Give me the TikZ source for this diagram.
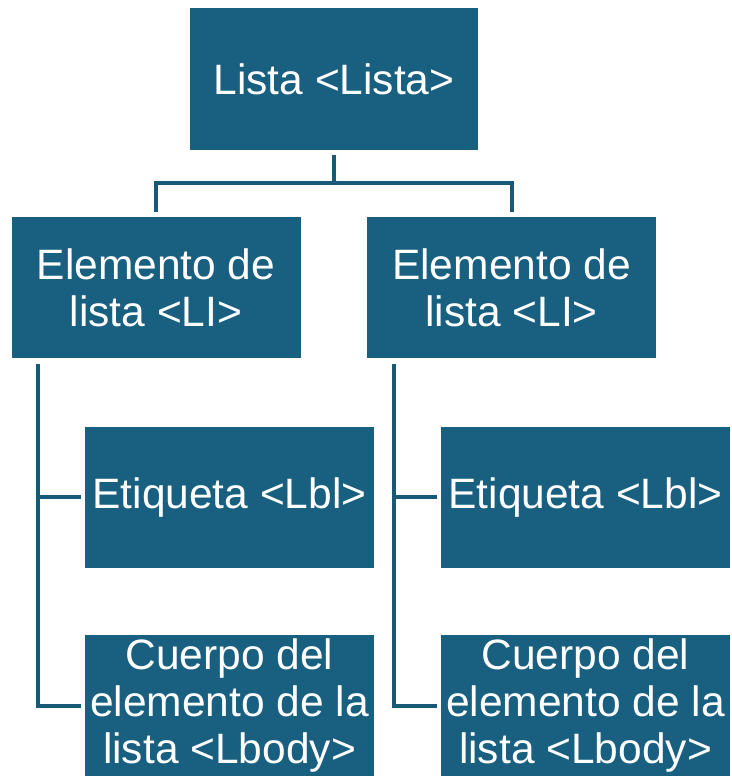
\documentclass[tikz,border=0pt]{standalone}
\usepackage{fontspec}
\setmainfont{Liberation Sans}
\usepackage{tikz}
\usetikzlibrary{positioning}
\usepackage{xcolor}
\definecolor{boxblue}{HTML}{185F80}
\definecolor{lineblue}{HTML}{1A5878}

\begin{document}
\begin{tikzpicture}[
    x=1pt, y=1pt,
    node distance=67pt,
    box/.style={
      rectangle, fill=boxblue, text=white, inner sep=0pt,
      minimum width=289pt, minimum height=141pt,
      align=center, font=\fontsize{42.5pt}{47pt}\selectfont
    },
    link/.style={draw=lineblue, line width=4pt},
  ]
  \useasboundingbox (0,0) rectangle (731,-776);

  %% Nodes
  \node[box, minimum width=288pt, minimum height=142pt] (lista) at (334,-79) {Lista <Lista>};
  \node[box, below=67pt of lista, xshift=-178pt] (li1) {Elemento de\\lista <LI>};
  \node[box, below=67pt of lista, xshift=177.5pt] (li2) {Elemento de\\lista <LI>};

  %% Children of each list item
  \node[box, below=68pt of li1, xshift=73.5pt] (et1) {Etiqueta <Lbl>};
  \node[box, below=67pt of et1] (cb1) {Cuerpo del\\elemento de la\\lista <Lbody>};
  \node[box, below=68pt of li2, xshift=74pt] (et2) {Etiqueta <Lbl>};
  \node[box, below=67pt of et2] (cb2) {Cuerpo del\\elemento de la\\lista <Lbody>};

  %% Connectors
  \draw[link] ([yshift=-5pt]lista.south) -- ++(0,-28) coordinate (fork)
    -| ([yshift=5pt]li1.north);
  \draw[link] (fork) -| ([yshift=5pt]li2.north);

  \draw[link] ([xshift=27pt,yshift=-5pt]li1.south west) coordinate (t1)
    |- ([xshift=-4pt]cb1.west);
  \draw[link] (t1 |- et1.west) -- ([xshift=-4pt]et1.west);
  \draw[link] ([xshift=27pt,yshift=-5pt]li2.south west) coordinate (t2)
    |- ([xshift=-4pt]cb2.west);
  \draw[link] (t2 |- et2.west) -- ([xshift=-4pt]et2.west);

\end{tikzpicture}
\end{document}
